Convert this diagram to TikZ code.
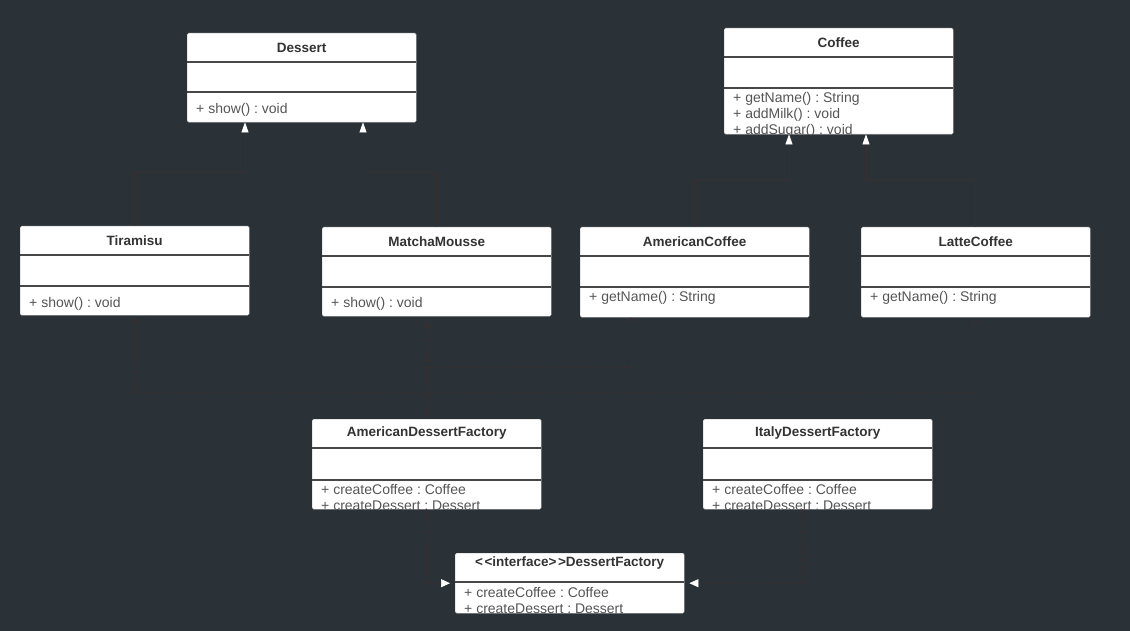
\documentclass[tikz,border=0pt]{standalone}
\usepackage{fontspec}
\setmainfont{Liberation Sans}
\usepackage{tikz}
\usetikzlibrary{calc}
\usetikzlibrary{arrows.meta}
\usepackage{xcolor}
\frenchspacing

\definecolor{bgcol}{HTML}{2A3238}
\definecolor{linkcol}{HTML}{3A2F2F}
\definecolor{namecol}{HTML}{333333}
\definecolor{opcol}{HTML}{555555}

\tikzset{
 classbox/.style={draw=gray!50, fill=white, rounded corners=1.5pt, anchor=north west, minimum width=229, inner sep=0pt},
 classname/.style={font=\fontsize{13.5}{16}\selectfont\bfseries, text=namecol, inner sep=0pt},
 ops/.style={font=\fontsize{14}{16}\selectfont, text=opcol, align=left, anchor=north west, inner sep=0pt},
 sepline/.style={line width=1.2pt, draw=namecol!90},
 inherit/.style={draw=linkcol, line width=0.7pt, -{Triangle[width=7pt,length=10pt,color=white,fill=white]}},
 depend/.style={draw=linkcol, line width=0.7pt, dash pattern=on 4pt off 3pt, -{Straight Barb[length=4pt,width=8pt]}},
 realize/.style={draw=linkcol, line width=0.7pt, dash pattern=on 4pt off 3pt, -{Triangle[width=8pt,length=9pt,color=white,fill=white]}, shorten >=5pt},
}

% [title options]{name}{x,y}{attribute height}{operation height}{text offset}{title}{operations}
\newcommand{\umlclass}[8][]{%
 \node [classbox, minimum height={29+#4+#5}] (#2) at (#3) {};
 \node [classname, #1] (#2-name) at ($(#2.north)+(0,14.5)$) {#7};
 \draw [sepline] ($(#2.north west)+(0,29)$) -- ($(#2.north east)+(0,29)$);
 \draw [sepline] ($(#2.north west)+(0,29+#4)$) -- ($(#2.north east)+(0,29+#4)$);
 \begin{scope}
 \clip [rounded corners=1.5pt] (#2.north west) rectangle (#2.south east);
 \node [ops] (#2-ops) at ($(#2.north west)+(9,29+#4+#6)$) {#8};
 \end{scope}
}

\begin{document}
\begin{tikzpicture}[x=1pt, y=-1pt]
\fill [bgcol] (0,0) rectangle (1130,631);
\useasboundingbox (0,0) rectangle (1130,631);

\umlclass{dessert}{187,33}{30}{30}{11}{Dessert}{+ show() : void}
\umlclass{tiramisu}{20,226}{31}{29}{11}{Tiramisu}{+ show() : void}
\umlclass{matcha}{322,227}{31}{29}{10}{MatchaMousse}{+ show() : void}

\umlclass{coffee}{724,28}{31}{46}{4.5}{Coffee}{+ getName() : String\\+ addMilk() : void\\+ addSugar() : void}
\umlclass{amcoffee}{580,227}{31}{30}{4.5}{AmericanCoffee}{+ getName() : String}
\umlclass{latte}{861,227}{31}{30}{4.5}{LatteCoffee}{+ getName() : String}

\umlclass{amfactory}{312,419}{32}{29}{4.5}{AmericanDessertFactory}{+ createCoffee : Coffee\\+ createDessert : Dessert}
\umlclass{italy}{703,419}{32}{29}{4.5}{ItalyDessertFactory}{+ createCoffee : Coffee\\+ createDessert : Dessert}
\umlclass[yshift=4.5pt]{iface}{455,553}{0}{31}{5}{\textless\kern1.5pt\textless{}interface\textgreater\kern1.5pt\textgreater{}DessertFactory}{+ createCoffee : Coffee\\+ createDessert : Dessert}

% generalization
\draw [inherit] (tiramisu.north) |- ($(dessert.south west)+(58,50)$) -- ($(dessert.south west)+(58,0)$);
\draw [inherit] (matcha.north) |- ($(dessert.south west)+(176,50)$) -- ($(dessert.south west)+(176,0)$);
\draw [inherit] (amcoffee.north) |- ($(coffee.south west)+(65,46)$) -- ($(coffee.south west)+(65,0)$);
\draw [inherit] (latte.north) |- ($(coffee.south west)+(142,46)$) -- ($(coffee.south west)+(142,0)$);

% dependencies
\coordinate (italyjoin) at ($(italy.north)+(0,-27)$);
\coordinate (amjoin) at ($(amfactory.north)+(0,-52)$);
\draw [depend] [shorten >=2pt] (italy.north) -- (italyjoin) -| (tiramisu.south);
\draw [depend] [shorten >=2pt] (italyjoin) -| (latte.south);
\draw [depend] [shorten >=6pt] (amfactory.north) -- (amfactory.north |- matcha.south);
\draw [depend] (amjoin) -| ($(amcoffee.south west)+(51,0)$);

% realization
\draw [realize] (amfactory.south) |- (iface.west);
\draw [realize] ($(italy.south west)+(99,0)$) |- (iface.east);
\end{tikzpicture}
\end{document}
